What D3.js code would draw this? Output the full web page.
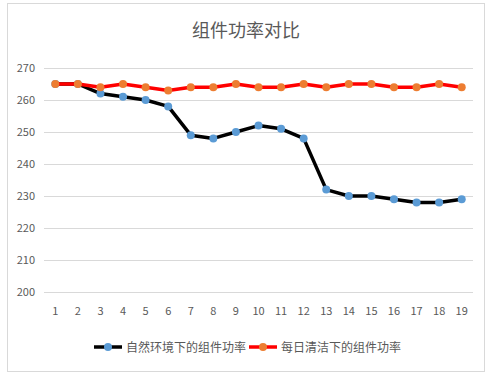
<!DOCTYPE html>
<html lang="zh">
<head>
<meta charset="UTF-8">
<title>组件功率对比</title>
<script src="https://cdn.jsdelivr.net/npm/d3@7"></script>
<style>
body { margin:0; background:#fff; }
text { font-family:"Noto Sans CJK SC", "Noto Sans", sans-serif; fill:#595959; }
.grid line { stroke:#d9d9d9; stroke-width:1; shape-rendering:crispEdges; }
.grid path { stroke-width:0; }
.axis path, .axis line { display:none; }
.axis text { font-size:11px; }
</style>
</head>
<body>
<div id="chart"></div>
<script>
// データ
var days = d3.range(1, 20).map(String);
var natural = [265,265,262,261,260,258,249,248,250,252,251,248,232,230,230,229,228,228,229];
var cleaned = [265,265,264,265,264,263,264,264,265,264,264,265,264,265,265,264,264,265,264];
var yTicks = [200,210,220,230,240,250,260,270];
var seriesNames = ["自然环境下的组件功率", "每日清洁下的组件功率"];

var width = 492, height = 375;
var padL = 44, padR = 473, padT = 68, padB = 292;

var svg = d3.select("#chart").append("svg")
  .attr("width", width).attr("height", height);

// 枠
svg.append("rect")
  .attr("x", 7.5).attr("y", 3.5).attr("width", 477).attr("height", 368)
  .attr("fill", "none").attr("stroke", "#d9d9d9");

var x = d3.scaleBand().domain(days).range([padL, padR]);
var y = d3.scaleLinear().domain([200, 270]).range([padB, padT]);

// grid
svg.append("g").attr("class", "grid")
  .attr("transform", "translate(" + padL + ",0)")
  .call(d3.axisLeft(y).tickValues(yTicks).tickSize(padL - padR).tickFormat(""));

// 軸ラベル
svg.append("g").attr("class", "axis")
  .attr("transform", "translate(" + (padL - 6) + ",0)")
  .call(d3.axisLeft(y).tickValues(yTicks).tickSize(0));

svg.append("g").attr("class", "axis")
  .attr("transform", "translate(0," + (padB + 12) + ")")
  .call(d3.axisBottom(x).tickSize(0));

// タイトル
svg.append("text")
  .text("组件功率对比")
  .attr("x", 246).attr("y", 37)
  .attr("text-anchor", "middle")
  .attr("font-size", "18px");

var line = d3.line()
  .x(function(d, i){ return x(days[i]) + x.bandwidth() / 2; })
  .y(function(d){ return y(d); });

function drawSeries(values, lineColor, dotColor) {
  svg.append("path")
    .attr("d", line(values))
    .attr("fill", "none")
    .attr("stroke", lineColor)
    .attr("stroke-width", 3.5)
    .attr("stroke-linejoin", "round");
  svg.append("g").selectAll("circle")
    .data(values).enter().append("circle")
    .attr("cx", function(d, i){ return x(days[i]) + x.bandwidth() / 2; })
    .attr("cy", function(d){ return y(d); })
    .attr("r", 4)
    .attr("fill", dotColor);
}

drawSeries(natural, "#000000", "#5b9bd5");
drawSeries(cleaned, "#ff0000", "#ed7d31");

// 凡例
var legend = [
  {name: seriesNames[0], line: "#000000", dot: "#5b9bd5", x: 94},
  {name: seriesNames[1], line: "#ff0000", dot: "#ed7d31", x: 249}
];
var lg = svg.selectAll("g.legend").data(legend).enter().append("g")
  .attr("class", "legend")
  .attr("transform", function(d){ return "translate(" + d.x + ",347)"; });
lg.append("line")
  .attr("x1", 0).attr("x2", 28).attr("y1", 0).attr("y2", 0)
  .attr("stroke", function(d){ return d.line; })
  .attr("stroke-width", 3.5);
lg.append("circle")
  .attr("cx", 14).attr("cy", 0).attr("r", 4)
  .attr("fill", function(d){ return d.dot; });
lg.append("text")
  .text(function(d){ return d.name; })
  .attr("x", 32).attr("y", 4.5)
  .attr("font-size", "12px");
</script>
</body>
</html>
